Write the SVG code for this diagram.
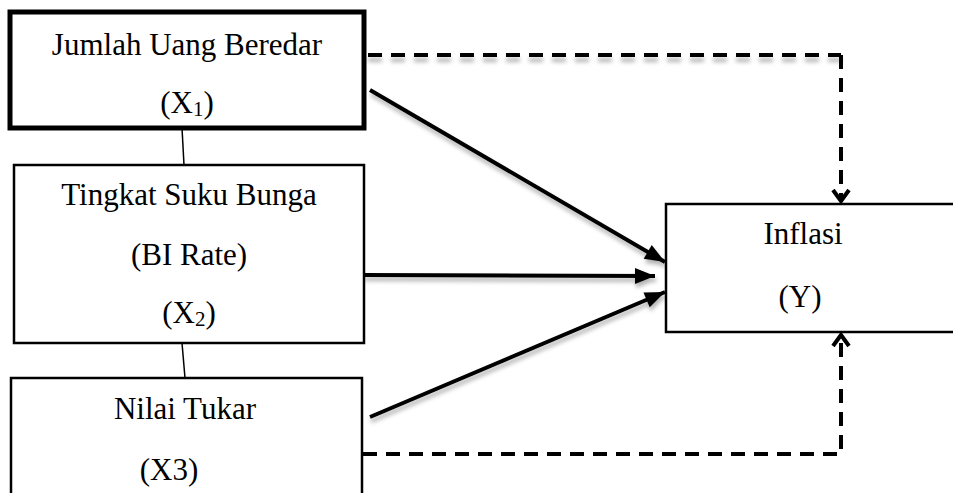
<svg xmlns="http://www.w3.org/2000/svg" width="953" height="493" viewBox="0 0 953 493">
<style>
  .box { fill: #fff; stroke: #000; stroke-width: 2.5; }
  .thick { stroke-width: 5; }
  .lbl { font-family: "Liberation Serif", "Times New Roman", serif; font-size: 31px; fill: #000; text-anchor: middle; }
  .sub { font-size: 21px; }
  .link { stroke: #000; stroke-width: 1.5; fill: none; }
  .arr { stroke: #000; stroke-width: 4; fill: none; marker-end: url(#tri); filter: url(#sh); }
  .dash { stroke: #000; stroke-width: 4; fill: none; stroke-dasharray: 14 9; marker-end: url(#vee); }
</style>
<defs>
  <filter id="sh" filterUnits="userSpaceOnUse" x="0" y="0" width="953" height="493">
    <feDropShadow dx="1" dy="4" stdDeviation="2" flood-color="#000" flood-opacity="0.3"/>
  </filter>
  <filter id="sh2" filterUnits="userSpaceOnUse" x="0" y="0" width="953" height="493">
    <feDropShadow dx="0" dy="5" stdDeviation="2" flood-color="#000" flood-opacity="0.3"/>
  </filter>
  <marker id="tri" markerUnits="userSpaceOnUse" markerWidth="24" markerHeight="22" viewBox="0 0 24 22" refX="22" refY="11" orient="auto">
    <path d="M2,3 L22,11 L2,19 Z" fill="#000"/>
  </marker>
  <marker id="vee" markerUnits="userSpaceOnUse" markerWidth="20" markerHeight="22" viewBox="0 0 20 22" refX="16" refY="11" orient="auto">
    <path d="M5,3 L16,11 L5,19" fill="none" stroke="#000" stroke-width="4"/>
  </marker>
</defs>

<g id="connectors">
  <line class="link" x1="182" y1="128" x2="184" y2="165"/>
  <line class="link" x1="182" y1="343" x2="185" y2="378"/>
  <line class="arr" x1="370" y1="90" x2="665" y2="262"/>
  <line class="arr" x1="363" y1="275" x2="655" y2="276"/>
  <line class="arr" x1="370" y1="417" x2="665" y2="292"/>
  <path d="M368,55 L841,55" stroke="#000" stroke-width="4" fill="none" stroke-dasharray="14 9" filter="url(#sh2)"/>
  <path class="dash" d="M841,55 L841,201"/>
  <path class="dash" d="M363,454 L841,454 L841,335"/>
</g>

<g id="node-x1">
  <rect class="box thick" x="10" y="12" width="354" height="116"/>
  <text class="lbl" x="187" y="55">Jumlah Uang Beredar</text>
  <text class="lbl" x="187" y="113">(X<tspan class="sub" dy="3">1</tspan><tspan dy="-3">)</tspan></text>
</g>

<g id="node-x2">
  <rect class="box" x="14" y="165" width="350" height="178"/>
  <text class="lbl" x="189" y="205">Tingkat Suku Bunga</text>
  <text class="lbl" x="189" y="265">(BI Rate)</text>
  <text class="lbl" x="189" y="323">(X<tspan class="sub" dy="3">2</tspan><tspan dy="-3">)</tspan></text>
</g>

<g id="node-x3">
  <rect class="box" x="11" y="378" width="351" height="130"/>
  <text class="lbl" x="185" y="419">Nilai Tukar</text>
  <text class="lbl" x="169" y="480">(X3)</text>
</g>

<g id="node-y">
  <rect class="box" x="666" y="204" width="300" height="128"/>
  <text class="lbl" x="803" y="244">Inflasi</text>
  <text class="lbl" x="800" y="307">(Y)</text>
</g>
</svg>
